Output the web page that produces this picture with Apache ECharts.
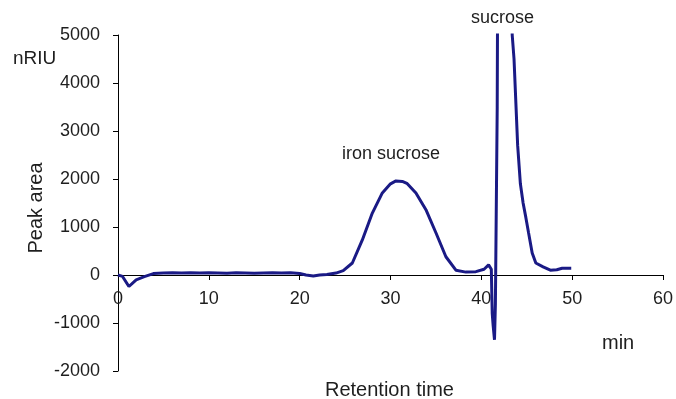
<!DOCTYPE html>
<html>
<head>
<meta charset="utf-8">
<script src="https://cdn.jsdelivr.net/npm/echarts@6/dist/echarts.min.js"></script>
<style>
  html, body { margin: 0; padding: 0; background: #fff; }
  #main { width: 676px; height: 399px; }
</style>
</head>
<body>
<div id="main"></div>
<script>
// retention time (min) and peak area (nRIU)
var times = [0, 0.5, 1.2, 2.0, 2.9, 3.9, 5, 6, 7, 8, 9, 10, 11, 12, 13, 14, 15, 16, 17, 18, 19, 20, 20.7, 21.5, 22.2,
  23, 24, 24.8, 25.8, 26.9, 28.0, 29.1, 30.0, 30.6, 31.3, 31.8, 32.8, 33.9, 35.0, 36.1, 37.2, 38.3, 39.4, 40.3, 40.8, 41.1,
  41.2, 41.3, 41.45, 41.55, 41.75, 41.85, 42.5, 43.3, 43.4, 43.6, 44.0, 44.3, 44.6, 44.9, 45.2, 45.6, 46.0, 46.8, 47.6, 48.3, 48.9, 49.5, 49.9];
var area = [0, -30, -240, -100, -35, 30, 40, 45, 40, 45, 40, 45, 40, 35, 45, 40, 35, 40, 45, 40, 45, 30, 0, -20, 0,
  10, 40, 90, 250, 730, 1290, 1710, 1900, 1960, 1950, 1910, 1710, 1360, 880, 380, 100, 60, 70, 120, 210, 120,
  -800, -1050, -1350, -600, 3500, 9000, 12000, 9000, 5000, 4500, 2700, 1900, 1500, 1200, 880, 460, 250, 170, 100, 110, 140, 140, 140];

var xTicks = { min: 0, max: 60, step: 10 };
var yTicks = { min: -2000, max: 5000, step: 1000 };

var chart = echarts.init(document.getElementById('main'), null, { renderer: 'canvas' });
var points = times.map(function (t, i) { return [t, area[i]]; });
var font = 'Liberation Sans, Arial, sans-serif';
var ink = '#1e1e1e';

chart.setOption({
  backgroundColor: '#fff',
  animation: false,
  grid: { left: 118, right: 9, top: 35, bottom: 28 },
  xAxis: {
    type: 'value',
    min: xTicks.min, max: xTicks.max, interval: xTicks.step,
    axisLine: { onZero: true, lineStyle: { color: '#000', width: 1 } },
    axisTick: { show: true, length: 5, lineStyle: { color: '#000' } },
    axisLabel: { color: ink, fontSize: 18, fontFamily: font, margin: -81 },
    splitLine: { show: false }
  },
  yAxis: {
    type: 'value',
    min: yTicks.min, max: yTicks.max, interval: yTicks.step,
    axisLine: { show: true, lineStyle: { color: '#000', width: 1 } },
    axisTick: { show: true, length: 5, lineStyle: { color: '#000' } },
    axisLabel: { color: ink, fontSize: 18, fontFamily: font, margin: 18,
      formatter: function (v) { return String(v); } },
    splitLine: { show: false }
  },
  series: [{
    type: 'line',
    data: points,
    showSymbol: false,
    clip: true,
    lineStyle: { color: '#1a1a85', width: 3 },
    z: 3
  }],
  graphic: [
    { type: 'text', x: 342, y: 145, style: { text: 'iron sucrose', fontSize: 18, fontFamily: font, fill: ink } },
    { type: 'text', x: 471, y: 9, style: { text: 'sucrose', fontSize: 18, fontFamily: font, fill: ink } },
    { type: 'text', x: 13, y: 49, style: { text: 'nRIU', fontSize: 19, fontFamily: font, fill: ink } },
    { type: 'text', x: 602, y: 333, style: { text: 'min', fontSize: 20, fontFamily: font, fill: ink } },
    { type: 'text', x: 325, y: 380, style: { text: 'Retention time', fontSize: 20, fontFamily: font, fill: ink } },
    { type: 'text', x: 36, y: 208, rotation: Math.PI / 2,
      style: { text: 'Peak area', fontSize: 20, fontFamily: font, fill: ink, align: 'center', verticalAlign: 'middle' } }
  ]
});
</script>
</body>
</html>
